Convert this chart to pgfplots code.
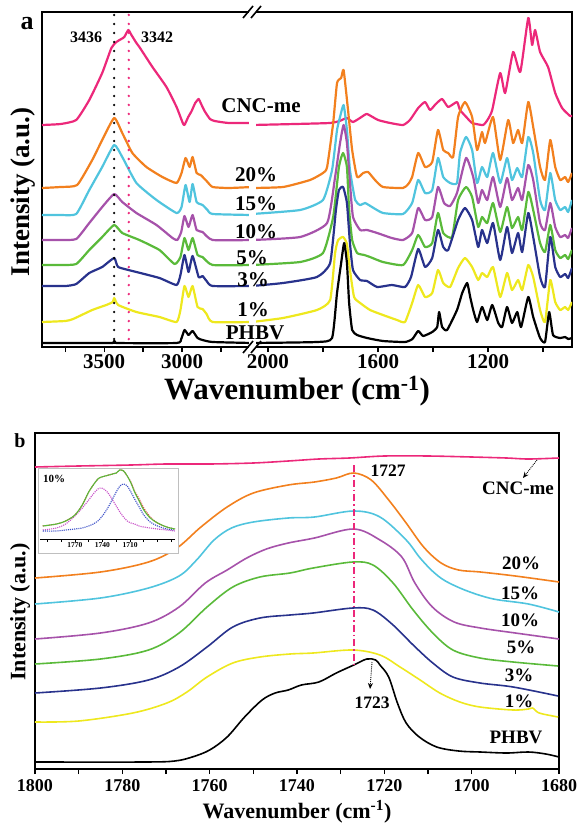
\documentclass[border=0pt]{standalone}
\usepackage{fontspec}
\setmainfont{Liberation Serif}
\usepackage{pgfplots}
\pgfplotsset{compat=1.18}
\usetikzlibrary{arrows.meta}
\definecolor{cpink}{RGB}{236,40,122}
\definecolor{corange}{RGB}{242,128,30}
\definecolor{ccyan}{RGB}{80,196,222}
\definecolor{cpurple}{RGB}{166,82,170}
\definecolor{cgreen}{RGB}{90,186,58}
\definecolor{cnavy}{RGB}{40,50,140}
\definecolor{cyellow}{RGB}{238,232,30}
\definecolor{ired}{RGB}{225,60,60}
\definecolor{imag}{RGB}{200,80,200}
\definecolor{iblue}{RGB}{60,80,200}
\pgfplotsset{
  spec/.style={scale only axis, anchor=south west, ymin=0, ytick=\empty,
    axis line style={line width=1.8pt}, tick style={line width=1.4pt,black},
    tick align=outside, xtick pos=left, major tick length=5pt, minor tick length=5pt,
    /pgf/number format/assume math mode=true, /pgf/number format/1000 sep={},
    every axis plot/.append style={line join=round}},
}
\begin{document}
\begin{tikzpicture}
\useasboundingbox (0pt,0pt) rectangle (579pt,-826pt);
% ---------------- panel a, left part
\begin{axis}[spec, at={(42pt,-347pt)}, width=210pt, height=335pt,
  xmin=2550, xmax=3900, x dir=reverse, ymax=335,
  xtick={3500,3000}, minor xtick={3750,3250,2750},
  xticklabel style={font=\fontsize{21}{21}\selectfont\bfseries, yshift=1pt},
  every axis plot/.append style={line width=2.2pt, smooth, tension=0.3}]
\addplot[cpink] coordinates {(3900,222) (3780,223) (3680,227) (3596,247) (3513,274) (3454,299) (3422,305) (3390,308) (3371,310) (3345,317) (3325,312) (3293,304) (3274,300) (3190,280) (3100,260) (3035,240) (2995,224) (2984,222) (2960,230) (2938,236) (2915,244) (2893,248) (2880,244) (2855,236) (2820,228) (2790,226) (2700,224) (2550,224)};
\addplot[corange] coordinates {(3900,159) (3780,160) (3674,162) (3577,187) (3513,207) (3436,229) (3384,214) (3319,194) (3229,180) (3126,170) (3035,164) (3003,174) (2977,189) (2951,180) (2932,190) (2906,174) (2880,172) (2842,166) (2803,160) (2700,159) (2550,160)};
\addplot[ccyan] coordinates {(3900,132) (3780,132) (3680,133) (3596,157) (3513,180) (3436,202) (3384,190) (3293,164) (3164,147) (3035,134) (3003,140) (2977,162) (2951,145) (2932,163) (2906,145) (2868,142) (2836,137) (2803,133) (2550,132)};
\addplot[cpurple] coordinates {(3900,107) (3780,107) (3680,108) (3596,124) (3513,140) (3436,153) (3384,145) (3293,134) (3164,122) (3061,109) (3030,107) (3005,115) (2984,131) (2958,120) (2932,132) (2906,117) (2868,115) (2803,107) (2550,107)};
\addplot[cgreen] coordinates {(3900,82) (3780,82) (3680,83) (3596,97) (3513,110) (3436,122) (3384,114) (3274,107) (3145,97) (3048,83) (3010,90) (2984,109) (2958,97) (2932,109) (2900,92) (2868,90) (2803,82) (2550,82)};
\addplot[cnavy] coordinates {(3900,61) (3750,61) (3680,63) (3596,74) (3513,80) (3436,89) (3410,80) (3293,75) (3145,69) (3035,62) (3010,72) (2984,92) (2958,75) (2932,91) (2893,70) (2868,71) (2842,66) (2803,61) (2550,61)};
\addplot[cyellow] coordinates {(3900,25) (3750,26) (3700,28) (3577,37) (3487,42) (3445,45) (3436,49) (3410,42) (3293,35) (3145,30) (3035,25) (3010,37) (2984,61) (2958,50) (2932,61) (2900,40) (2868,38) (2842,33) (2803,25) (2550,25)};
\addplot[black] coordinates {(3900,4) (3450,4) (3436,6) (3420,4) (3035,4) (3005,8) (2984,17) (2958,12) (2932,16) (2900,9) (2868,7) (2803,5) (2550,4)};
\draw[black, line width=2.6pt, dash pattern=on 0pt off 9pt, line cap=round] (axis cs:3436,332) -- (axis cs:3436,3);
\draw[cpink, line width=2.6pt, dash pattern=on 0pt off 9pt, line cap=round] (axis cs:3342,332) -- (axis cs:3342,3);
\end{axis}
% ---------------- panel a, right part
\begin{axis}[spec, at={(252pt,-347pt)}, width=320pt, height=335pt,
  xmin=895, xmax=2058, x dir=reverse, ymax=335,
  xtick={2000,1600,1200}, minor xtick={1800,1400,1000},
  xticklabel style={font=\fontsize{21}{21}\selectfont\bfseries, yshift=1pt},
  every axis plot/.append style={line width=2.2pt, smooth, tension=0.3}]
\addplot[cpink] coordinates {(2058,222) (1900,223) (1774,224) (1740,226) (1713,229) (1691,225) (1660,230) (1640,233) (1600,227) (1556,224) (1509,222) (1484,227) (1454,239) (1429,245) (1411,237) (1390,243) (1367,248) (1345,240) (1313,245) (1302,237) (1276,229) (1258,224) (1218,222) (1200,228) (1185,237) (1156,274) (1138,254) (1109,295) (1083,275) (1054,329) (1040,302) (1029,317) (1011,295) (982,280) (956,254) (931,239) (902,231) (895,231)};
\addplot[corange] coordinates {(2058,159) (1945,160) (1847,167) (1800,174) (1785,180) (1763,224) (1749,264) (1734,269) (1725,277) (1709,237) (1694,197) (1676,170) (1654,174) (1636,175) (1611,167) (1582,160) (1509,159) (1490,163) (1476,170) (1454,194) (1429,180) (1403,185) (1382,217) (1363,197) (1345,194) (1327,190) (1309,230) (1284,245) (1258,230) (1240,197) (1222,215) (1211,204) (1182,230) (1156,187) (1127,227) (1109,204) (1091,217) (1076,204) (1054,245) (1036,220) (1011,180) (993,167) (974,207) (956,180) (938,167) (920,170) (909,165) (895,174)};
\addplot[ccyan] coordinates {(2058,133) (1883,137) (1800,147) (1767,177) (1749,217) (1738,230) (1725,242) (1713,217) (1702,177) (1683,147) (1665,142) (1647,144) (1622,140) (1582,134) (1509,133) (1476,144) (1454,167) (1429,154) (1403,157) (1382,189) (1363,170) (1338,164) (1313,164) (1302,194) (1280,210) (1258,197) (1240,164) (1222,180) (1203,170) (1182,194) (1156,164) (1131,189) (1113,167) (1094,179) (1076,170) (1054,210) (1036,194) (1011,147) (993,137) (974,174) (956,147) (938,137) (920,140) (909,135) (895,147)};
\addplot[cpurple] coordinates {(2058,107) (1883,110) (1785,124) (1756,170) (1738,204) (1725,222) (1713,204) (1702,164) (1691,130) (1665,117) (1640,117) (1603,114) (1550,109) (1509,107) (1476,114) (1454,139) (1429,127) (1403,130) (1382,160) (1360,144) (1338,141) (1313,154) (1280,189) (1254,170) (1236,144) (1222,157) (1203,147) (1182,170) (1156,140) (1131,169) (1113,147) (1091,159) (1076,147) (1054,182) (1036,167) (1011,124) (993,117) (974,144) (956,120) (938,110) (920,112) (909,109) (895,119)};
\addplot[cgreen] coordinates {(2058,82) (1883,85) (1800,94) (1763,130) (1742,180) (1727,194) (1713,180) (1705,137) (1694,107) (1676,94) (1650,92) (1629,90) (1582,85) (1509,82) (1476,97) (1454,112) (1429,100) (1403,104) (1382,134) (1363,114) (1331,110) (1309,147) (1280,160) (1258,150) (1236,120) (1222,130) (1203,124) (1182,144) (1156,115) (1131,140) (1113,119) (1091,130) (1076,117) (1054,155) (1036,137) (1011,104) (993,95) (974,122) (956,97) (938,89) (920,92) (909,88) (895,97)};
\addplot[cnavy] coordinates {(2058,61) (1945,64) (1822,70) (1774,84) (1753,137) (1742,157) (1727,160) (1713,144) (1702,104) (1691,77) (1665,67) (1640,66) (1603,60) (1550,62) (1502,60) (1480,70) (1454,98) (1429,80) (1403,89) (1382,117) (1363,100) (1345,97) (1309,127) (1284,139) (1258,127) (1236,100) (1222,117) (1203,104) (1182,124) (1156,87) (1131,120) (1113,94) (1091,114) (1076,95) (1054,134) (1036,110) (1011,70) (993,60) (974,110) (956,80) (938,70) (920,73) (909,69) (895,79)};
\addplot[cyellow] coordinates {(2058,25) (1945,29) (1822,37) (1774,47) (1756,94) (1745,107) (1727,110) (1713,103) (1702,77) (1687,50) (1665,44) (1629,37) (1582,32) (1531,27) (1502,25) (1476,44) (1454,62) (1429,50) (1403,54) (1382,77) (1363,64) (1338,60) (1309,79) (1284,89) (1258,80) (1236,67) (1222,74) (1203,70) (1182,80) (1156,50) (1131,74) (1113,57) (1091,67) (1076,57) (1054,82) (1036,70) (1011,37) (993,25) (974,67) (956,45) (938,37) (920,40) (909,37) (895,45)};
\addplot[black] coordinates {(2058,4) (1822,5) (1767,9) (1749,54) (1734,84) (1723,104) (1713,84) (1705,44) (1694,17) (1676,12) (1640,9) (1582,6) (1502,5) (1475,8) (1454,16) (1436,11) (1403,15) (1385,20) (1378,35) (1367,20) (1349,17) (1313,37) (1294,54) (1276,64) (1265,50) (1254,37) (1240,25) (1222,40) (1203,27) (1185,42) (1163,24) (1149,20) (1131,40) (1113,24) (1094,35) (1080,20) (1054,50) (1036,30) (1011,9) (993,5) (978,35) (964,12) (938,9) (920,10) (909,8) (895,9)};
\end{axis}
% axis break
\fill[white] (248.5pt,-2pt) rectangle (255.5pt,-354pt);
\draw[line width=1.6pt] (243pt,-18pt) -- (253pt,-6pt) (251pt,-18pt) -- (261pt,-6pt);
\draw[line width=1.6pt] (243pt,-353pt) -- (253pt,-341pt) (251pt,-353pt) -- (261pt,-341pt);
% labels panel a
\node[font=\fontsize{26}{26}\selectfont\bfseries] at (27pt,-24pt) {a};
\node[font=\fontsize{27}{27}\selectfont\bfseries, rotate=90] at (23pt,-192pt) {Intensity (a.u.)};
\node[font=\fontsize{31}{31}\selectfont\bfseries, inner sep=0pt] at (297pt,-391pt) {Wavenumber (cm\textsuperscript{-1})};
\node[font=\fontsize{16}{16}\selectfont\bfseries] at (86pt,-37pt) {3436};
\node[font=\fontsize{16}{16}\selectfont\bfseries] at (157pt,-37pt) {3342};
\begin{scope}[every node/.style={font=\fontsize{21}{21}\selectfont\bfseries}]
\node at (261pt,-106pt) {CNC-me};
\node at (256pt,-175pt) {20\%};
\node at (256pt,-204pt) {15\%};
\node at (256pt,-232pt) {10\%};
\node at (252pt,-258pt) {5\%};
\node at (253pt,-280pt) {3\%};
\node at (253pt,-310pt) {1\%};
\node at (255pt,-333pt) {PHBV};
\end{scope}
% ---------------- panel b
\begin{axis}[spec, at={(35pt,-769pt)}, width=524pt, height=336pt,
  xmin=1680, xmax=1800, x dir=reverse, ymax=336,
  xtick={1680,1700,...,1800}, minor x tick num=1,
  xticklabel style={font=\fontsize{18}{18}\selectfont\bfseries, yshift=-2pt},
  every axis plot/.append style={line width=1.6pt, smooth, tension=0.55}]
\addplot[cpink] coordinates {(1800,302) (1790,303) (1778,304) (1770,305) (1760,305) (1750,306) (1742,308) (1735,310) (1728,311) (1720,313) (1710,313) (1700,312) (1692,311) (1687,310) (1680,311)};
\addplot[corange] coordinates {(1800,191) (1785,197) (1774,207) (1767.5,221) (1762,242) (1756,262) (1750,276) (1742,284) (1736,287) (1731,291) (1727,296) (1723,289) (1719,269) (1715,246) (1711,222) (1707,206) (1703,199) (1698,197) (1690,193) (1680,187)};
\addplot[ccyan] coordinates {(1800,165) (1785,171) (1774,181) (1767,193) (1763,209) (1759,229) (1755,241) (1750,247) (1742,251) (1736,252) (1727,258) (1721,252) (1715,229) (1712,212) (1709,198) (1706,188) (1701,178) (1695,170) (1687,165) (1680,157)};
\addplot[cpurple] coordinates {(1800,130) (1785,136) (1774,146) (1767,162) (1761,186) (1756,199) (1751.5,211) (1747,220) (1742,226) (1736,231) (1727,240) (1721,229) (1716,212) (1713,186) (1709,162) (1704,147) (1698,141) (1690,136) (1680,130)};
\addplot[cgreen] coordinates {(1800,105) (1785,110) (1774,119) (1767,136) (1760.6,162) (1754.7,182) (1748.5,192) (1741.6,196) (1736.3,201) (1727.2,207) (1722.6,204) (1718,186) (1713.4,159) (1708.9,136) (1704.3,119) (1698.1,111) (1690.5,107) (1680.2,103)};
\addplot[cnavy] coordinates {(1800,76) (1785,81) (1774,89) (1767,102) (1760.6,122) (1754.7,142) (1748.5,151) (1741.6,154) (1736.3,156) (1727.2,161) (1722.6,159) (1718,144) (1713.4,124) (1708.9,106) (1704.3,92) (1698.1,86) (1690.5,82) (1680.2,73)};
\addplot[cyellow] coordinates {(1800,47) (1790,48) (1777.6,56) (1769.8,66) (1765.2,77) (1760.6,92) (1754.7,106) (1748.5,112) (1741.6,115) (1736.3,116) (1727.2,119) (1721,114) (1716.4,102) (1711.8,89) (1707.3,76) (1702.7,67) (1698.1,62) (1690.5,59) (1687,60) (1686,61) (1685,57) (1683.7,55) (1680.2,52)};
\addplot[black] coordinates {(1800,7) (1775,7) (1768,8) (1764,12) (1760,19) (1756,32) (1752,52) (1748,69) (1745,76) (1742,79) (1739,84) (1735,87) (1731,96) (1727,104) (1724,110) (1722,109) (1721,104) (1719,92) (1717,66) (1715,46) (1712,32) (1708,22) (1703,18) (1698,17) (1692,16) (1687,17) (1683,15) (1680,12)};
\draw[cpink, line width=1.6pt, dash pattern=on 7pt off 3pt on 1.5pt off 3pt] (axis cs:1727,304) -- (axis cs:1727,104);
\end{axis}
% inset
\fill[white] (38pt,-468pt) rectangle (178pt,-553pt);
\draw[gray!50, line width=0.7pt] (38pt,-468pt) rectangle (178pt,-553pt);
\begin{axis}[scale only axis, anchor=south west, at={(40pt,-539pt)}, width=135pt, height=70pt,
  xmin=1661, xmax=1808, x dir=reverse, ymin=1, ymax=71,
  axis x line*=bottom, axis y line=none,
  xtick={1770,1740,1710}, minor xtick={1800,1785,1755,1725,1695,1680,1665},
  tick align=outside, major tick length=2.5pt, minor tick length=2.5pt,
  xticklabel style={font=\fontsize{7.5}{7.5}\selectfont\bfseries, inner sep=1pt},
  /pgf/number format/assume math mode=true, /pgf/number format/1000 sep={},
  axis line style={line width=0.8pt}, tick style={line width=0.6pt,black},
  every axis plot/.append style={smooth, tension=0.5}]
\addplot[imag, line width=1.1pt, densely dotted] coordinates {(1805,10) (1790,12) (1780,16) (1770,24) (1762,32) (1755,40) (1750,46) (1745,51) (1741,52) (1737,50) (1733,46) (1729,40) (1725,34) (1721,28) (1717,23) (1713,19) (1709,17) (1705,16) (1700,14) (1695,13) (1688,12) (1680,11) (1670,10) (1661,9)};
\addplot[iblue, line width=1.1pt, densely dotted] coordinates {(1805,9) (1790,9) (1780,10) (1770,11) (1762,12) (1755,14) (1750,16) (1745,19) (1741,23) (1737,28) (1733,34) (1729,41) (1725,48) (1721,54) (1717,56) (1713,54) (1709,48) (1705,41) (1700,33) (1695,25) (1688,18) (1680,14) (1670,11) (1661,10)};
\addplot[ired, line width=1.1pt, densely dotted] coordinates {(1805,14) (1790,16) (1780,19) (1770,25) (1762,35) (1755,48) (1750,55) (1745,61) (1741,63) (1737,64) (1733,65) (1729,66) (1725,67) (1721,70) (1717,69) (1713,64) (1709,58) (1705,49) (1700,41) (1695,32) (1688,23) (1680,17) (1670,13) (1661,11)};
\addplot[cgreen, line width=1.1pt] coordinates {(1805,14) (1790,16) (1780,19) (1770,25) (1762,35) (1755,48) (1750,55) (1745,61) (1741,63) (1737,64) (1733,65) (1729,66) (1725,67) (1721,70) (1717,69) (1713,64) (1709,57) (1705,48) (1700,39) (1695,30) (1688,22) (1680,17) (1670,13) (1661,11)};
\end{axis}
\node[font=\fontsize{11}{11}\selectfont\bfseries] at (54pt,-479pt) {10\%};
% labels panel b
\node[font=\fontsize{20}{20}\selectfont\bfseries] at (20pt,-441pt) {b};
\node[font=\fontsize{22}{22}\selectfont\bfseries, rotate=90] at (20pt,-612pt) {Intensity (a.u.)};
\node[font=\fontsize{22}{22}\selectfont\bfseries] at (297pt,-812pt) {Wavenumber (cm\textsuperscript{-1})};
\begin{scope}[every node/.style={font=\fontsize{19}{19}\selectfont\bfseries}]
\node at (518pt,-488pt) {CNC-me};
\node at (521pt,-563pt) {20\%};
\node at (520pt,-593pt) {15\%};
\node at (520pt,-620pt) {10\%};
\node at (521pt,-647pt) {5\%};
\node at (519pt,-675pt) {3\%};
\node at (519pt,-701pt) {1\%};
\node at (516pt,-737pt) {PHBV};
\end{scope}
\node[font=\fontsize{17.5}{17.5}\selectfont\bfseries] at (388pt,-471pt) {1727};
\node[font=\fontsize{17.5}{17.5}\selectfont\bfseries] at (372pt,-703pt) {1723};
\draw[densely dotted, line width=0.9pt, -{Stealth[length=6pt,width=5pt]}] (372pt,-662pt) -- (370pt,-689pt);
\draw[densely dotted, line width=0.9pt, -{Stealth[length=6pt,width=5pt]}] (537pt,-460pt) -- (523pt,-478pt);
\end{tikzpicture}
\end{document}
